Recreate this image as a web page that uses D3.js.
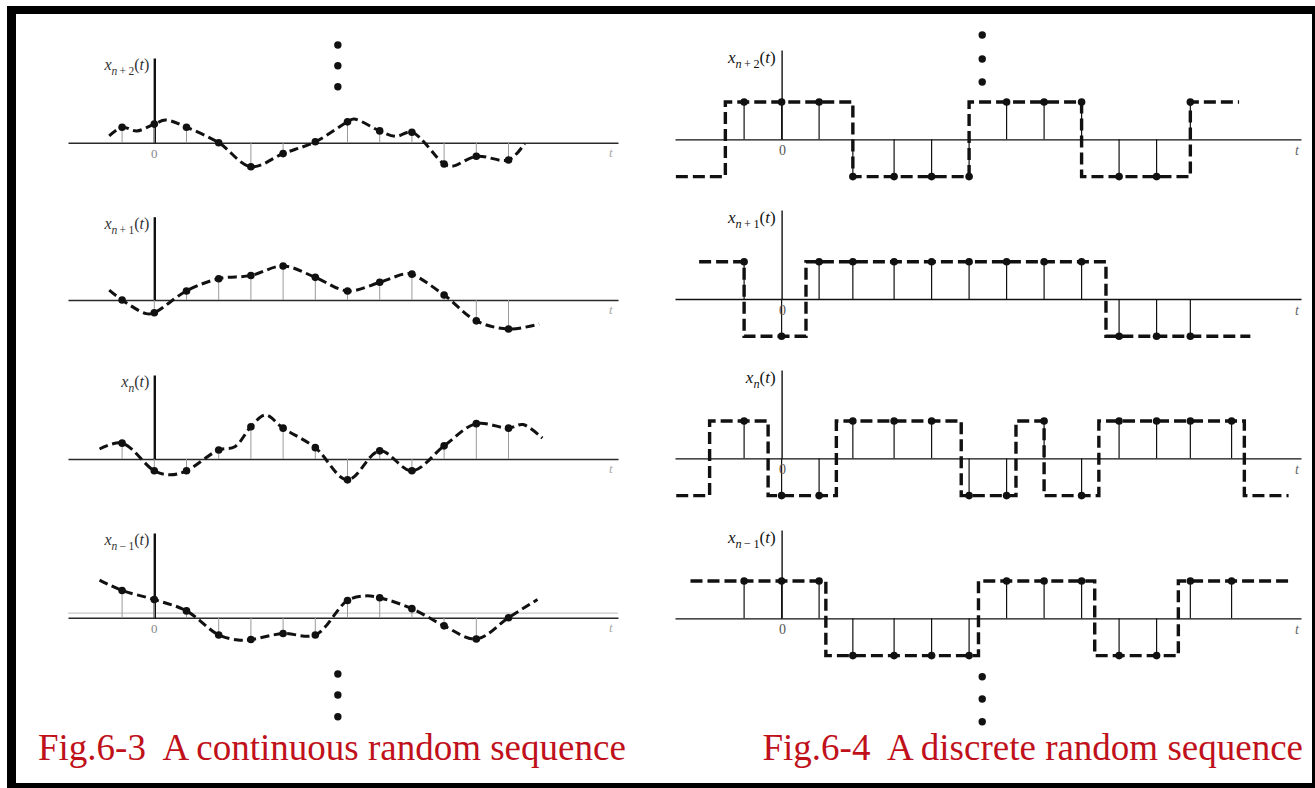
<!DOCTYPE html>
<html><head><meta charset="utf-8">
<script src="https://cdn.jsdelivr.net/npm/d3@7"></script>
<style>body{margin:0;background:#fff}svg{display:block}</style>
</head><body>
<svg id="c" width="1315" height="788"></svg>
<script>
// ---------------- DATA ----------------
// Fig.6-3 continuous random sequence: sample instants and sampled values
const contSampleT = [-1, 0, 1, 2, 3, 4, 5, 6, 7, 8, 9, 10, 11];
const contSubs = ["n + 2", "n + 1", "n", "n − 1"];
const contSamples1 = [1.7, 2.05, 1.7, 0, -2.65, -1.2, 0.1, 2.3, 1.3, 1.15, -2.35, -1.5, -1.9];
const contSamples2 = [0, -1.4, 1.0, 2.35, 2.7, 3.75, 2.5, 1.0, 1.95, 2.85, 0.55, -2.3, -3.2];
const contSamples3 = [1.75, -1.3, -1.3, 1.0, 3.55, 3.4, 1.25, -2.3, 0.9, -1.3, 1.45, 3.9, 3.4];
const contSamples4 = [3.0, 2.0, 0.75, -1.9, -2.4, -1.75, -1.9, 1.9, 2.2, 1.0, -0.9, -2.35, 0];
// continuous waveforms (time, value)
const contCurve1 = [[-1.4,0.75],[-1,1.7],[-0.55,1.3],[0,2.05],[0.35,2.5],[1,1.7],[2,0],[3,-2.65],[4,-1.2],[5,0.1],[6,2.3],[6.2,2.6],[7,1.3],[7.5,0.7],[8,1.15],[9,-2.35],[9.25,-2.6],[10,-1.5],[11,-1.9],[11.5,-0.1]];
const contCurve2 = [[-1.4,1.1],[-1,0],[-0.25,-1.5],[0,-1.4],[1,1.0],[2,2.35],[3,2.7],[4,3.75],[5,2.5],[6,1.0],[7,1.95],[7.8,2.9],[8,2.85],[9,0.55],[10,-2.3],[11,-3.2],[11.95,-2.65]];
const contCurve3 = [[-1.7,1.1],[-1,1.75],[0,-1.3],[0.5,-1.75],[1,-1.3],[2,1.0],[2.5,1.35],[3,3.55],[3.45,4.85],[4,3.4],[5,1.25],[6,-2.3],[7,0.9],[8,-1.3],[9,1.45],[10,3.9],[11,3.4],[11.45,3.8],[12.05,2.3]];
const contCurve4 = [[-1.7,4.15],[-1,3.0],[0,2.0],[1,0.75],[2,-1.9],[2.6,-2.45],[3,-2.4],[4,-1.75],[5,-1.9],[6,1.9],[6.55,2.4],[7,2.2],[8,1.0],[9,-0.9],[10,-2.35],[11,0],[11.9,2.0]];

// Fig.6-4 discrete random sequence: sample instants, sampled levels, step waveforms
const discSampleT = [-1, 0, 1, 1.9, 3, 4, 5, 6, 7, 8, 9, 10, 10.9, 12];
const discSubs = ["n + 2", "n + 1", "n", "n − 1"];
const discSamples1 = [1, 1, 1, -1, -1, -1, -1, 1, 1, 1, -1, -1, 1];
const discSamples2 = [1, -1, 1, 1, 1, 1, 1, 1, 1, 1, -1, -1, -1];
const discSamples3 = [1, -1, -1, 1, 1, 1, -1, -1, 1, -1, 1, 1, 1, 1];
const discSamples4 = [1, 1, 1, -1, -1, -1, -1, 1, 1, 1, -1, -1, 1, 1];
// step waveforms: start time, switching instants, levels held, end time
const discStep1 = {start: -2.82, switches: [-1.5, 1.9, 5, 8, 10.9], levels: [-1, 1, -1, 1, -1, 1], end: 12.2};
const discStep2 = {start: -2.2, switches: [-1, 0.65, 8.65], levels: [1, -1, 1, -1], end: 12.5};
const discStep3 = {start: -2.81, switches: [-1.92, -0.36, 1.46, 4.79, 6.25, 7, 8.46, 12.34], levels: [-1, 1, -1, 1, -1, 1, -1, 1, -1], end: 13.52};
const discStep4 = {start: -2.43, switches: [1.18, 5.25, 8.35, 10.58], levels: [1, -1, 1, -1, 1], end: 13.52};

const captionLeft = "Fig.6-3  A continuous random sequence";
const captionRight = "Fig.6-4  A discrete random sequence";

// ---------------- DRAWING ----------------
const svg = d3.select("#c");
const serif = "'Liberation Serif','Times New Roman',serif";

// frame
svg.append("rect").attr("x", 7).attr("y", 6).attr("width", 1308).attr("height", 8).attr("fill", "#000");
svg.append("rect").attr("x", 7).attr("y", 6).attr("width", 9).attr("height", 782).attr("fill", "#000");
svg.append("rect").attr("x", 7).attr("y", 783).attr("width", 1308).attr("height", 5).attr("fill", "#000");
svg.append("rect").attr("x", 1312).attr("y", 6).attr("width", 3).attr("height", 782).attr("fill", "#000");

function label(g, x, y, sub, color, size) {
  const t = g.append("text").attr("x", x).attr("y", y).attr("font-family", serif)
    .attr("font-size", size).attr("fill", color).attr("text-anchor", "end");
  t.append("tspan").attr("font-style", "italic").text("x");
  const parts = sub.split(" ");
  const ss = size * 0.72;
  t.append("tspan").attr("font-style", "italic").attr("font-size", ss).attr("dy", size * 0.3).text(parts[0]);
  if (parts.length > 1) t.append("tspan").attr("font-size", ss).text("\u2009" + parts[1] + "\u2009" + parts[2]);
  t.append("tspan").attr("dy", -size * 0.3).text("(");
  t.append("tspan").attr("font-style", "italic").text("t");
  t.append("tspan").text(")");
}

// ----- left figure -----
const xL = d3.scaleLinear().domain([-2.68, 14.4]).range([68, 618]);
const leftBase = [142.7, 300, 459, 617.7];
const leftTop = [58, 216.7, 375, 533];
const contSamples = [contSamples1, contSamples2, contSamples3, contSamples4];
const contCurves = [contCurve1, contCurve2, contCurve3, contCurve4];
const unitL = 9.07;

contSamples.forEach((vals, i) => {
  const base = leftBase[i];
  const y = d3.scaleLinear().domain([0, 1]).range([base, base - unitL]);
  const g = svg.append("g");
  if (i === 3) {
    g.append("line").attr("x1", xL.range()[0]).attr("x2", xL.range()[1])
      .attr("y1", base - 4.5).attr("y2", base - 4.5).attr("stroke", "#c8c8c8").attr("stroke-width", 1.2);
  }
  const ax = g.append("g").attr("transform", `translate(0,${base})`)
    .call(d3.axisBottom(xL).tickValues([]).tickSizeOuter(0));
  ax.select(".domain").attr("stroke", "#2a2a2a").attr("stroke-width", 1.6);
  const ys = d3.scaleLinear().domain([0, 1]).range([base, leftTop[i]]);
  const ay = g.append("g").attr("transform", `translate(${xL(0)},0)`)
    .call(d3.axisLeft(ys).tickValues([]).tickSizeOuter(0));
  ay.select(".domain").attr("stroke", "#111").attr("stroke-width", 2.4);
  g.selectAll("line.stem").data(contSampleT).join("line").attr("class", "stem")
    .attr("x1", d => xL(d)).attr("x2", d => xL(d))
    .attr("y1", base).attr("y2", (d, k) => y(vals[k]))
    .attr("stroke", "#9a9a9a").attr("stroke-width", 1);
  g.append("path").datum(contCurves[i])
    .attr("d", d3.line().x(d => xL(d[0])).y(d => y(d[1])).curve(d3.curveCatmullRom.alpha(0.5)))
    .attr("fill", "none").attr("stroke", "#111").attr("stroke-width", 3)
    .attr("stroke-dasharray", "9,4.5");
  g.selectAll("circle.s").data(contSampleT).join("circle").attr("class", "s")
    .attr("cx", d => xL(d)).attr("cy", (d, k) => y(vals[k])).attr("r", 3.8).attr("fill", "#111");
  label(g, xL(0) - 5, leftTop[i] + 12, contSubs[i], "#333", 16);
  g.append("text").attr("x", 609).attr("y", base + 14).attr("font-family", serif)
    .attr("font-style", "italic").attr("font-size", 13).attr("fill", "#aaa").text("t");
  if (i === 0 || i === 3) {
    g.append("text").attr("x", xL(0)).attr("y", base + 15).attr("text-anchor", "middle")
      .attr("font-family", serif).attr("font-size", 13).attr("fill", "#888").text("0");
  }
});

// ----- right figure -----
const xR = d3.scaleLinear().domain([-2.843, 13.851]).range([675, 1301]);
const rightBase = [139.3, 299, 458.3, 618.3];
const rightTop = [50, 210, 370, 530];
const discSamples = [discSamples1, discSamples2, discSamples3, discSamples4];
const discSteps = [discStep1, discStep2, discStep3, discStep4];
const ampR = 37.3;

discSamples.forEach((vals, i) => {
  const base = rightBase[i];
  const y = d3.scaleLinear().domain([-1, 1]).range([base + ampR, base - ampR]);
  const g = svg.append("g");
  const ax = g.append("g").attr("transform", `translate(0,${base})`)
    .call(d3.axisBottom(xR).tickValues([]).tickSizeOuter(0));
  ax.select(".domain").attr("stroke", "#111").attr("stroke-width", 1.3);
  const ys = d3.scaleLinear().domain([0, 1]).range([base, rightTop[i]]);
  const ay = g.append("g").attr("transform", `translate(${xR(0)},0)`)
    .call(d3.axisLeft(ys).tickValues([]).tickSizeOuter(0));
  ay.select(".domain").attr("stroke", "#111").attr("stroke-width", 1.4);
  const ts = discSampleT.slice(0, vals.length);
  g.selectAll("line.stem").data(ts).join("line").attr("class", "stem")
    .attr("x1", d => xR(d)).attr("x2", d => xR(d))
    .attr("y1", base).attr("y2", (d, k) => y(vals[k]))
    .attr("stroke", "#111").attr("stroke-width", 1.2);
  const st = discSteps[i];
  const pts = [[st.start, st.levels[0]]];
  st.switches.forEach((s, k) => { pts.push([s, st.levels[k]]); pts.push([s, st.levels[k + 1]]); });
  pts.push([st.end, st.levels[st.levels.length - 1]]);
  g.append("path").datum(pts)
    .attr("d", d3.line().x(d => xR(d[0])).y(d => y(d[1])))
    .attr("fill", "none").attr("stroke", "#111").attr("stroke-width", 3.4)
    .attr("stroke-dasharray", "12,5");
  g.selectAll("circle.s").data(ts).join("circle").attr("class", "s")
    .attr("cx", d => xR(d)).attr("cy", (d, k) => y(vals[k])).attr("r", 3.8).attr("fill", "#111");
  label(g, xR(0) - 6, rightTop[i] + 13, discSubs[i], "#111", 17);
  g.append("text").attr("x", 1295).attr("y", base + 16).attr("font-family", serif)
    .attr("font-style", "italic").attr("font-size", 14).attr("fill", "#666").text("t");
  g.append("text").attr("x", xR(0) + 1).attr("y", base + 16).attr("text-anchor", "middle")
    .attr("font-family", serif).attr("font-size", 14).attr("fill", "#555").text("0");
});

// ellipses
const ell = svg.append("g").attr("fill", "#111");
[45, 65.7, 86.7, 674, 695, 716.7].forEach(yy => ell.append("circle").attr("cx", xL(5.7)).attr("cy", yy).attr("r", 3.7));
[35, 59, 82, 676.7, 699, 721.7].forEach(yy => ell.append("circle").attr("cx", xR(5.35)).attr("cy", yy).attr("r", 3.7));

// captions
svg.append("text").attr("x", 38).attr("y", 760).attr("font-family", serif).attr("font-size", 37)
  .attr("fill", "#c0111b").style("white-space", "pre").text(captionLeft);
svg.append("text").attr("x", 1303).attr("y", 760).attr("text-anchor", "end").attr("font-family", serif).attr("font-size", 37)
  .attr("fill", "#c0111b").style("white-space", "pre").text(captionRight);
</script>
</body></html>
